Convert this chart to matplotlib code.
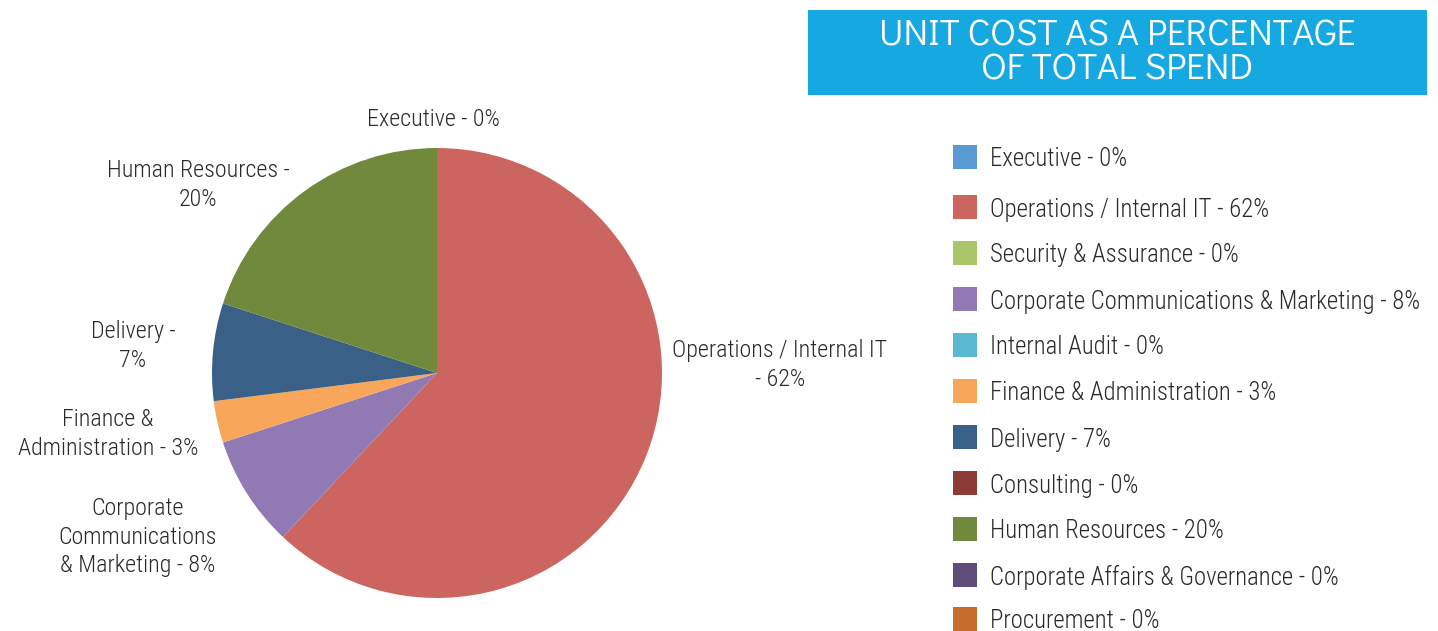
import matplotlib
matplotlib.use("Agg")
import matplotlib.pyplot as plt
from matplotlib import font_manager
from matplotlib.font_manager import FontProperties
from matplotlib.patches import Rectangle

entries = font_manager.fontManager.ttflist
names = {f.name for f in entries}


def pick(cands):
    for c in cands:
        if c in names:
            return c
    return "DejaVu Sans"


def pick_file(cands, weights=(300, 400)):
    for c in cands:
        for w in weights:
            for f in entries:
                if f.name == c and f.style == "normal" and int(f.weight) == w:
                    return FontProperties(fname=f.fname)
    return FontProperties(family="DejaVu Sans")


label_font = pick(["Roboto Condensed", "Archivo Narrow", "Asap Condensed",
                   "Liberation Sans Narrow", "Liberation Sans"])
title_fp = pick_file(["Didact Gothic", "Questrial", "Mulish", "Montserrat",
                      "Poppins", "Lato"])

categories = ["Executive", "Operations / Internal IT", "Security & Assurance",
              "Corporate Communications & Marketing", "Internal Audit",
              "Finance & Administration", "Delivery", "Consulting",
              "Human Resources", "Corporate Affairs & Governance", "Procurement"]
values = [0, 62, 0, 8, 0, 3, 7, 0, 20, 0, 0]
colors = ["#5B9BD5", "#CC655F", "#A9C66B", "#9179B3", "#5BB8D3", "#F8A65A",
          "#3A6087", "#8C3B37", "#71893C", "#604C7A", "#C56D2A"]
pie_labels = {
    "Executive": "Executive - 0%",
    "Operations / Internal IT": "Operations / Internal IT\n- 62%",
    "Corporate Communications & Marketing": "Corporate\nCommunications\n& Marketing - 8%",
    "Finance & Administration": "Finance &\nAdministration - 3%",
    "Delivery": "Delivery -\n7%",
    "Human Resources": "Human Resources -\n20%",
}
title_lines = ["UNIT COST AS A PERCENTAGE", "OF TOTAL SPEND"]

W, H = 1438, 631
fig = plt.figure(figsize=(W / 100, H / 100), dpi=100)
fig.patch.set_facecolor("white")

cx, cy, r = 437, 373, 225
ax = fig.add_axes([(cx - r) / W, (H - cy - r) / H, 2 * r / W, 2 * r / H])
wedges, _ = ax.pie(values, colors=colors, startangle=90, counterclock=False,
                   radius=1.0, wedgeprops=dict(linewidth=0))
ax.set_xlim(-1, 1)
ax.set_ylim(-1, 1)
ax.set_aspect("equal")
ax.axis("off")

text_color = "#2a2a2a"
label_pos = {
    "Executive": (433, 119),
    "Operations / Internal IT": (780, 365),
    "Human Resources": (198, 185),
    "Delivery": (133, 346),
    "Finance & Administration": (108, 434),
    "Corporate Communications & Marketing": (138, 537),
}
for cat, txt in pie_labels.items():
    x, y = label_pos[cat]
    fig.text(x / W, 1 - y / H, txt, ha="center", va="center", fontsize=17.3,
             family=label_font, fontweight="light", color=text_color,
             linespacing=1.3)

# title box
fig.patches.append(Rectangle((808 / W, 1 - 95 / H), (1427 - 808) / W, 85 / H,
                             transform=fig.transFigure, facecolor="#16A9E1",
                             edgecolor="none"))
tcx = (808 + 1427) / 2 / W
t1 = fig.text(tcx, 1 - 36 / H, title_lines[0], ha="center", va="center",
              fontproperties=title_fp, fontsize=23, color="white")
t2 = fig.text(tcx, 1 - 70 / H, title_lines[1], ha="center", va="center",
              fontproperties=title_fp, fontsize=23, color="white")
renderer = fig.canvas.get_renderer()
wpx = t1.get_window_extent(renderer).width
fs = min(23 * 477 / wpx, 27)
t1.set_fontsize(fs)
t2.set_fontsize(fs)

# legend
ys = [157, 207, 253, 299, 345, 391, 437, 483, 529, 575, 619]
for cat, v, c, y in zip(categories, values, colors, ys):
    fig.patches.append(Rectangle((953 / W, 1 - (y + 12) / H), 24 / W, 24 / H,
                                 transform=fig.transFigure, facecolor=c,
                                 edgecolor="none"))
    fig.text(990 / W, 1 - y / H, f"{cat} - {v}%", ha="left",
             va="center_baseline", fontsize=17.8, family=label_font,
             fontweight="light", color=text_color)

fig.savefig("out.png", dpi=100)
